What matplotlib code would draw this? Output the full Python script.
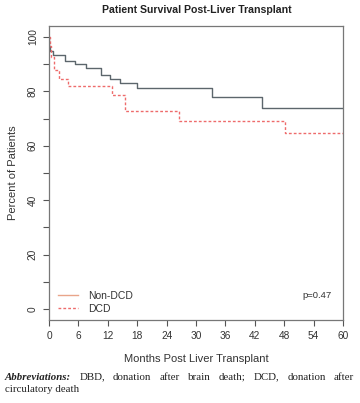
import matplotlib.pyplot as plt
from matplotlib.lines import Line2D

# Kaplan-Meier step data (months, percent surviving)
nondcd_t = [0, 0.1, 0.3, 0.8, 3.3, 5.3, 7.5, 10.6, 12.4, 14.5, 17.9, 33.2, 43.4, 60]
nondcd_s = [100, 96.5, 95.0, 93.4, 91.2, 90.0, 88.7, 86.0, 84.6, 83.0, 81.1, 78.0, 74.0, 74.0]
dcd_t = [0, 0.2, 0.5, 1.0, 2.1, 3.8, 12.8, 15.5, 26.6, 48.2, 60]
dcd_s = [100, 96.8, 92.5, 87.9, 84.6, 82.0, 78.7, 72.8, 69.1, 64.8, 64.8]
x_ticks = list(range(0, 61, 6))
y_ticks = list(range(0, 101, 10))
y_labels = ["0", "", "20", "", "40", "", "60", "", "80", "", "100"]
p_text = "p=0.47"

plt.rcParams["font.family"] = ["Liberation Sans", "DejaVu Sans"]

W, H = 360, 403
fig = plt.figure(figsize=(W / 100, H / 100), dpi=100)
ax = fig.add_axes([49 / W, 1 - 320 / H, 294 / W, 294 / H])

grey = "#5c666c"
red = "#ee6b6b"
ax.step(nondcd_t, nondcd_s, where="post", color=grey, lw=1.0, label="Non-DCD")
ax.step(dcd_t, dcd_s, where="post", color=red, lw=1.0, ls=(0, (2, 1.5)), label="DCD")

ax.set_xlim(0, 60)
ax.set_ylim(-4, 104)
ax.set_xticks(x_ticks)
ax.set_yticks(y_ticks)
ax.set_yticklabels(y_labels, rotation=90, va="center")
for s in ax.spines.values():
    s.set_color("#777777")
    s.set_linewidth(0.9)
ax.tick_params(axis="both", colors="#555555", labelcolor="#333333",
               labelsize=7.3, length=4, width=0.8, pad=4)

ax.set_xlabel("Months Post Liver Transplant", fontsize=8, color="#333333", labelpad=9)
ax.set_ylabel("Percent of Patients", fontsize=8, color="#333333", labelpad=7)
fig.text(197 / W, 1 - 10 / H, "Patient Survival Post-Liver Transplant",
         ha="center", va="center", fontsize=7.6, fontweight="bold", color="#222222")

handles = [Line2D([], [], color="#e9a58a", lw=1.0),
           Line2D([], [], color=red, lw=1.0, ls=(0, (2, 1.5)))]
ax.legend(handles, ["Non-DCD", "DCD"], loc="lower left", bbox_to_anchor=(0.0, -0.01),
          frameon=False, fontsize=7.5, handlelength=1.9, handletextpad=1.0,
          labelspacing=0.25, labelcolor="#333333")
ax.text(0.96, 0.085, p_text, transform=ax.transAxes, ha="right", va="center",
        fontsize=6.8, color="#333333")

# caption, first line justified across the page width
fig.canvas.draw()
rend = fig.canvas.get_renderer()
serif = ["Liberation Serif", "DejaVu Serif"]
fs = 7.8
y1 = 1 - 377 / H
y2 = 1 - 390 / H
x0, x1 = 5, 354
words = ["DBD,", "donation", "after", "brain", "death;", "DCD,", "donation", "after"]
lead = fig.text(x0 / W, y1, "Abbreviations:", family=serif, style="italic",
                fontweight="bold", fontsize=fs, va="center", color="#222222")
arts = [fig.text(0, y1, w, family=serif, fontsize=fs, va="center", color="#222222")
        for w in words]
widths = [a.get_window_extent(rend).width for a in [lead] + arts]
gap = (x1 - x0 - sum(widths)) / len(words)
xp = x0 + widths[0] + gap
for a, w in zip(arts, widths[1:]):
    a.set_x(xp / W)
    xp += w + gap
fig.text(x0 / W, y2, "circulatory death", family=serif, fontsize=fs,
         va="center", color="#222222")

fig.savefig("out.png", dpi=100)
